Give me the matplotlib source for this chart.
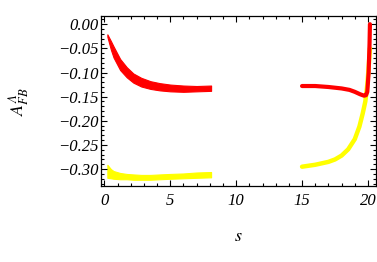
import matplotlib
matplotlib.use("Agg")
import matplotlib.pyplot as plt
from matplotlib.ticker import MultipleLocator

plt.rcParams['font.family'] = 'Liberation Serif'
plt.rcParams['font.style'] = 'italic'
plt.rcParams['mathtext.fontset'] = 'stix'

# low-s region: bands (upper / lower edges)
s_low = [0.23, 0.5, 0.7, 1.2, 1.7, 2.2, 2.8, 3.5, 4.2, 5.0, 6.0, 7.0, 8.1]
red_up = [-0.021, -0.035, -0.046, -0.072, -0.089, -0.102, -0.111, -0.118, -0.122, -0.125, -0.127, -0.128, -0.127]
red_lo = [-0.026, -0.053, -0.069, -0.095, -0.110, -0.121, -0.129, -0.134, -0.137, -0.139, -0.140, -0.139, -0.138]
yel_up = [-0.291, -0.300, -0.304, -0.308, -0.310, -0.311, -0.312, -0.312, -0.311, -0.310, -0.309, -0.307, -0.306]
yel_lo = [-0.318, -0.319, -0.320, -0.321, -0.321, -0.322, -0.322, -0.322, -0.321, -0.320, -0.319, -0.318, -0.317]

# high-s region: single curves
s_red_hi = [15.0, 16.0, 17.0, 18.0, 18.6, 19.0, 19.4, 19.7, 19.85, 19.95, 20.05, 20.12, 20.15]
red_hi = [-0.128, -0.128, -0.130, -0.133, -0.136, -0.140, -0.145, -0.148, -0.147, -0.140, -0.100, -0.040, 0.0]
s_yel_hi = [15.0, 16.0, 17.0, 17.5, 18.0, 18.5, 19.0, 19.35, 19.6, 19.8, 19.95, 20.05, 20.15]
yel_hi = [-0.295, -0.291, -0.285, -0.280, -0.272, -0.259, -0.238, -0.212, -0.185, -0.160, -0.125, -0.090, -0.050]

fig = plt.figure(figsize=(3.77, 2.62), dpi=100)
ax = fig.add_axes([0.268, 0.290, 0.729, 0.649])

ax.fill_between(s_low, yel_up, yel_lo, color='#ffff00', lw=0.8, edgecolor='#ffff00')
ax.plot(s_yel_hi, yel_hi, color='#ffff00', lw=3.2, solid_capstyle='round')
ax.fill_between(s_low, red_up, red_lo, color='#ff0000', lw=0.8, edgecolor='#ff0000')
ax.plot(s_red_hi, red_hi, color='#ff0000', lw=3.0, solid_capstyle='round')

ax.set_xlim(-0.25, 20.6)
ax.set_ylim(-0.335, 0.017)
ax.set_xticks([0, 5, 10, 15, 20])
ax.set_yticks([0.0, -0.05, -0.10, -0.15, -0.20, -0.25, -0.30])
ax.set_yticklabels(['0.00', '\u22120.05', '\u22120.10', '\u22120.15', '\u22120.20', '\u22120.25', '\u22120.30'])
ax.xaxis.set_minor_locator(MultipleLocator(1))
ax.yaxis.set_minor_locator(MultipleLocator(0.01))
ax.tick_params(which='both', direction='in', top=True, right=True, labelsize=12, width=0.8)
ax.tick_params(which='major', length=4)
ax.tick_params(which='minor', length=2)
ax.tick_params(axis='y', pad=2)
ax.tick_params(axis='x', pad=5)
for lbl in ax.get_xticklabels() + ax.get_yticklabels():
    lbl.set_fontstyle('italic')
for sp in ax.spines.values():
    sp.set_linewidth(0.9)

ax.set_xlabel('$s$', fontsize=13, labelpad=14)
ax.set_ylabel(r'$A^{\Lambda}_{\mathrm{FB}}$', fontsize=13, labelpad=19)

plt.savefig('out.png', dpi=100)
